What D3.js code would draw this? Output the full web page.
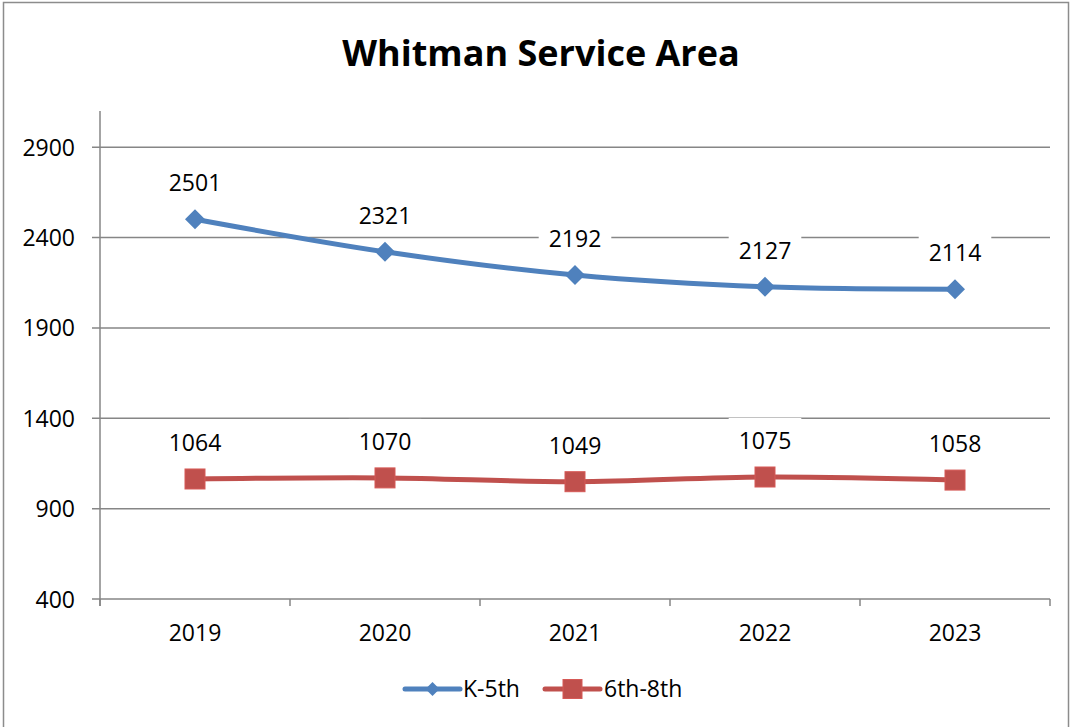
<!DOCTYPE html>
<html>
<head>
<meta charset="utf-8">
<script src="https://cdn.jsdelivr.net/npm/d3@7"></script>
<style>
  html, body { margin: 0; padding: 0; background: #fff; }
  svg { display: block; }
</style>
</head>
<body>
<svg width="1073" height="727"></svg>
<script>
(function (d3) {

  // Chart data
  // ----------
  var years = ['2019', '2020', '2021', '2022', '2023'];
  var k5th = [2501, 2321, 2192, 2127, 2114];
  var g6to8 = [1064, 1070, 1049, 1075, 1058];
  var yTicks = [400, 900, 1400, 1900, 2400, 2900];

  var font = '"Open Sans", "Noto Sans", sans-serif';
  var gridColor = '#868686';

  var series = [
    { name: 'K-5th', values: k5th, color: '#4F81BD', marker: 'diamond' },
    { name: '6th-8th', values: g6to8, color: '#C0504D', marker: 'square' }
  ];

  var svg = d3.select('svg');

  // outer chart border
  svg.append('rect')
     .attr('x', 3.5)
     .attr('y', 2.5)
     .attr('width', 1065)
     .attr('height', 760)
     .style('fill', 'white')
     .style('stroke', '#8c8c8c')
     .style('stroke-width', 1.5);

  // title
  svg.append('text')
     .attr('x', 541)
     .attr('y', 66)
     .attr('text-anchor', 'middle')
     .attr('font-family', font)
     .attr('font-weight', 'bold')
     .attr('font-size', '36px')
     .attr('fill', 'black')
     .text('Whitman Service Area');

  // Scales
  // ------
  var x = d3.scaleBand().domain(years).range([100, 1050]).padding(0);
  var y = d3.scaleLinear().domain([400, 3100]).range([599, 111]);
  var cx = function (i) { return x(years[i]) + x.bandwidth() / 2; };

  // gridlines + y ticks
  svg.selectAll('.grid')
     .data(yTicks)
     .enter().append('line')
     .attr('x1', 92)
     .attr('x2', 1050)
     .attr('y1', function (d) { return y(d); })
     .attr('y2', function (d) { return y(d); })
     .style('stroke', gridColor)
     .style('stroke-width', 1.5);

  svg.selectAll('.ylab')
     .data(yTicks)
     .enter().append('text')
     .attr('x', 75)
     .attr('y', function (d) { return y(d) + 8.5; })
     .attr('text-anchor', 'end')
     .attr('font-family', font)
     .attr('font-size', '23px')
     .attr('fill', 'black')
     .text(function (d) { return d; });

  // y axis line
  svg.append('line')
     .attr('x1', 100).attr('x2', 100)
     .attr('y1', y(3100)).attr('y2', 606)
     .style('stroke', gridColor)
     .style('stroke-width', 1.5);

  // x axis ticks at category boundaries
  var bounds = years.map(function (d) { return x(d); }).concat([x.range()[1]]);
  svg.selectAll('.xtick')
     .data(bounds)
     .enter().append('line')
     .attr('x1', function (d) { return d; })
     .attr('x2', function (d) { return d; })
     .attr('y1', 599)
     .attr('y2', 606)
     .style('stroke', gridColor)
     .style('stroke-width', 1.5);

  svg.selectAll('.xlab')
     .data(years)
     .enter().append('text')
     .attr('x', function (d, i) { return cx(i); })
     .attr('y', 641)
     .attr('text-anchor', 'middle')
     .attr('font-family', font)
     .attr('font-size', '23px')
     .attr('fill', 'black')
     .text(function (d) { return d; });

  // Markers
  // -------
  function drawMarker(g, type, px, py, size, color) {
    if (type === 'diamond') {
      g.append('path')
       .attr('d', 'M' + px + ',' + (py - size) + 'L' + (px + size) + ',' + py +
                  'L' + px + ',' + (py + size) + 'L' + (px - size) + ',' + py + 'Z')
       .style('fill', color);
    } else {
      g.append('rect')
       .attr('x', px - size)
       .attr('y', py - size)
       .attr('width', size * 2)
       .attr('height', size * 2)
       .style('fill', color)
       .style('stroke', d3.color(color).brighter(0.3))
       .style('stroke-width', 1);
    }
  }

  var line = d3.line()
    .x(function (d, i) { return cx(i); })
    .y(function (d) { return y(d); })
    .curve(d3.curveCardinal.tension(0));

  series.forEach(function (s) {
    var g = svg.append('g');
    g.append('path')
     .datum(s.values)
     .attr('d', line)
     .style('fill', 'none')
     .style('stroke', s.color)
     .style('stroke-width', 5)
     .style('stroke-linejoin', 'round');
    s.values.forEach(function (v, i) {
      drawMarker(g, s.marker, cx(i), y(v), s.marker === 'diamond' ? 10 : 10, s.color);
    });
  });

  // data labels with white boxes
  series.forEach(function (s) {
    s.values.forEach(function (v, i) {
      var g = svg.append('g');
      var t = g.append('text')
        .attr('x', cx(i))
        .attr('y', y(v) - 28)
        .attr('text-anchor', 'middle')
        .attr('font-family', font)
        .attr('font-size', '23px')
        .attr('fill', 'black')
        .text(v);
      var w = t.node().getComputedTextLength();
      g.insert('rect', 'text')
       .attr('x', cx(i) - w / 2 - 10)
       .attr('y', y(v) - 28 - 16 - 15)
       .attr('width', w + 20)
       .attr('height', 16 + 15 + 6)
       .style('fill', 'white');
    });
  });

  // Legend
  // ------
  var legend = [
    { x1: 405, x2: 460, tx: 463, size: 7 },
    { x1: 545, x2: 600, tx: 604, size: 9.5 }
  ];
  series.forEach(function (s, i) {
    var L = legend[i];
    var g = svg.append('g');
    g.append('line')
     .attr('x1', L.x1).attr('x2', L.x2)
     .attr('y1', 689).attr('y2', 689)
     .style('stroke', s.color)
     .style('stroke-width', 5)
     .style('stroke-linecap', 'round');
    drawMarker(g, s.marker, (L.x1 + L.x2) / 2, 689, L.size, s.color);
    g.append('text')
     .attr('x', L.tx)
     .attr('y', 697)
     .attr('font-family', font)
     .attr('font-size', '23px')
     .attr('fill', 'black')
     .text(s.name);
  });

})(d3);
</script>
</body>
</html>
